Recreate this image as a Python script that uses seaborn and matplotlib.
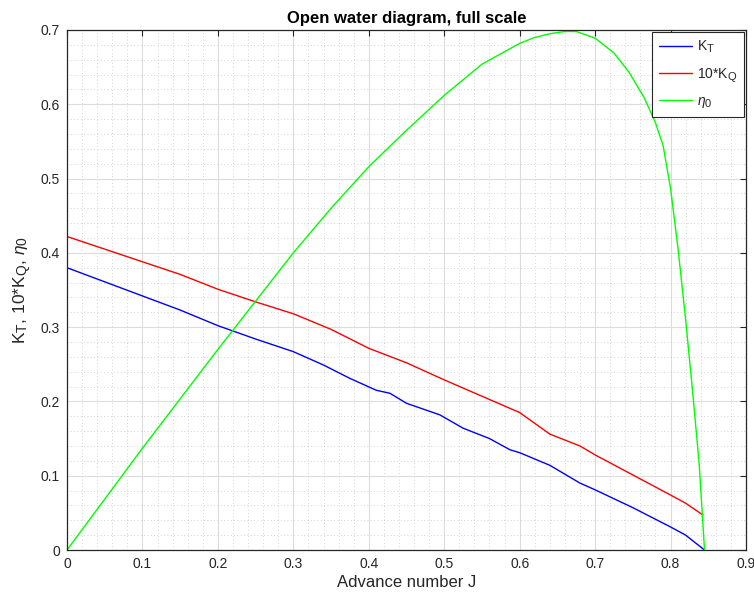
import matplotlib
matplotlib.use("Agg")
import matplotlib.pyplot as plt
import matplotlib._mathtext as _mt
import seaborn as sns
import pandas as pd
from matplotlib.ticker import MultipleLocator, FuncFormatter

# ---- data ----
J_kt = [0, 0.05, 0.1, 0.15, 0.2, 0.25, 0.3, 0.34, 0.375, 0.41, 0.428, 0.45, 0.494,
        0.525, 0.56, 0.587, 0.6, 0.64, 0.68, 0.7, 0.75, 0.8, 0.82, 0.845]
KT = [0.380, 0.361, 0.342, 0.323, 0.302, 0.284, 0.267, 0.249, 0.231, 0.215, 0.211,
      0.1975, 0.182, 0.164, 0.150, 0.135, 0.131, 0.114, 0.090, 0.081, 0.057, 0.031,
      0.020, 0.0]

J_kq = [0, 0.05, 0.1, 0.15, 0.2, 0.25, 0.3, 0.35, 0.4, 0.45, 0.5, 0.55, 0.6, 0.64,
        0.68, 0.7, 0.75, 0.8, 0.82, 0.843]
KQ10 = [0.422, 0.405, 0.388, 0.371, 0.351, 0.334, 0.318, 0.297, 0.2715, 0.252, 0.229,
        0.207, 0.185, 0.156, 0.140, 0.128, 0.101, 0.074, 0.063, 0.047]

J_eta = [0, 0.1, 0.2, 0.3, 0.35, 0.4, 0.45, 0.5, 0.55, 0.6, 0.62, 0.64, 0.66, 0.675,
         0.7, 0.725, 0.745, 0.765, 0.78, 0.79, 0.8, 0.81, 0.82, 0.83, 0.838, 0.845]
ETA0 = [0, 0.137, 0.270, 0.400, 0.460, 0.516, 0.565, 0.612, 0.654, 0.682, 0.690,
        0.695, 0.698, 0.698, 0.689, 0.669, 0.643, 0.609, 0.575, 0.545, 0.487, 0.405,
        0.310, 0.205, 0.115, 0.0]

labels = [r"K$_\mathrm{T}$", r"10*K$_\mathrm{Q}$", r"$\eta_0$"]
colors = ["#0000ff", "#ff0000", "#00ff00"]

title = "Open water diagram, full scale"
xlabel = "Advance number J"
ylabel = r"K$_\mathrm{T}$, 10*K$_\mathrm{Q}$, $\eta_0$"

# MATLAB-like (larger) subscripts
try:
    _mt.SHRINK_FACTOR = 0.8
except Exception:
    pass

sns.set_style("white")
plt.rcParams["font.family"] = ["Liberation Sans", "DejaVu Sans"]
plt.rcParams["mathtext.fontset"] = "custom"
plt.rcParams["mathtext.rm"] = "Liberation Sans"
plt.rcParams["mathtext.it"] = "Liberation Sans:italic"
plt.rcParams["mathtext.bf"] = "Liberation Sans:bold"

axc = "#262626"
fig = plt.figure(figsize=(7.54, 6.0), dpi=100)
ax = fig.add_axes([67/754, 1-550/600, (746-67)/754, (550-30)/600])

frames = [pd.DataFrame({"J": J_kt, "v": KT}),
          pd.DataFrame({"J": J_kq, "v": KQ10}),
          pd.DataFrame({"J": J_eta, "v": ETA0})]
for df, lab, col in zip(frames, labels, colors):
    sns.lineplot(data=df, x="J", y="v", ax=ax, color=col, label=lab, lw=1.0,
                 sort=False, estimator=None)

ax.set_xlim(0, 0.9)
ax.set_ylim(0, 0.7)
ax.xaxis.set_major_locator(MultipleLocator(0.1))
ax.yaxis.set_major_locator(MultipleLocator(0.1))
ax.xaxis.set_minor_locator(MultipleLocator(0.02))
ax.yaxis.set_minor_locator(MultipleLocator(0.02))
fmt = FuncFormatter(lambda v, p: ("%.1f" % v).rstrip("0").rstrip(".") if abs(v) > 1e-9 else "0")
ax.xaxis.set_major_formatter(fmt)
ax.yaxis.set_major_formatter(fmt)

ax.grid(True, which="major", color="#dcdcdc", lw=0.8, ls="-")
ax.grid(True, which="minor", color="#c4c4c4", lw=0.6, ls=(0, (1, 3)))
ax.set_axisbelow(True)

for s in ax.spines.values():
    s.set_visible(True)
    s.set_color(axc)
    s.set_linewidth(0.9)
ax.tick_params(which="major", direction="in", length=4, width=0.8, color=axc,
               top=True, right=True, labelsize=10, labelcolor=axc, pad=5)
ax.tick_params(which="minor", length=0)

ax.set_xlabel(xlabel, fontsize=12, color=axc, labelpad=3)
ax.set_ylabel(ylabel, fontsize=12.5, color=axc, labelpad=5)
ax.set_title(title, fontsize=12, fontweight="bold", color="black", pad=5)

leg = ax.legend(loc="upper right", fontsize=10, frameon=True, fancybox=False,
                edgecolor=axc, framealpha=1, handlelength=2.4, borderaxespad=0.15,
                labelspacing=0.75, handletextpad=0.3, borderpad=0.5)
leg.get_frame().set_linewidth(0.8)

fig.savefig("out.png", dpi=100)
